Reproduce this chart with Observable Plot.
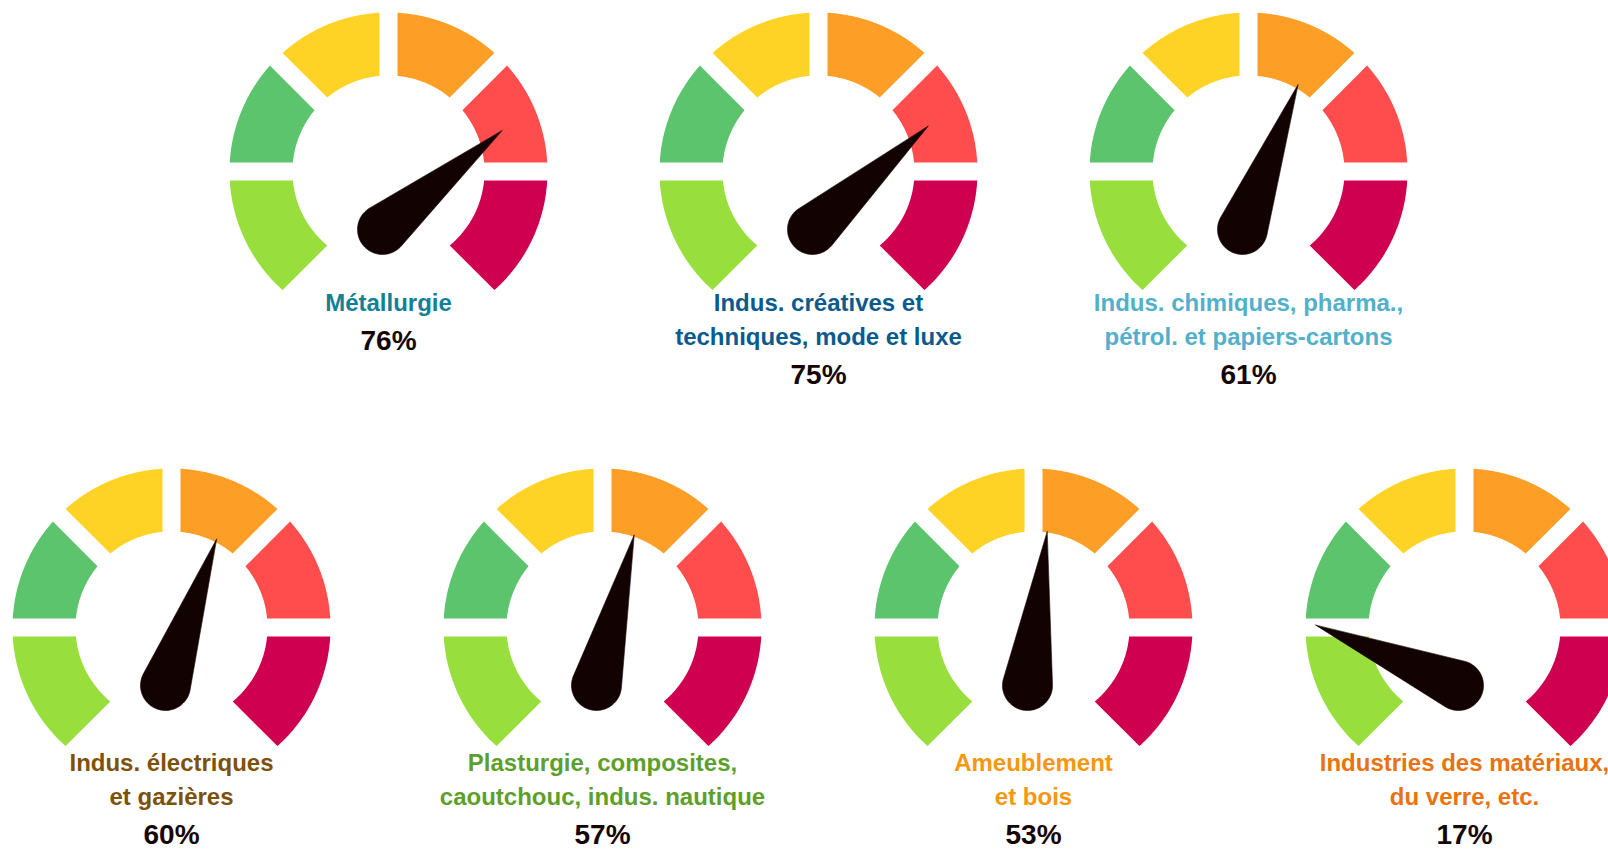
<!DOCTYPE html>
<html>
<head>
<meta charset="utf-8">
<script src="https://cdn.jsdelivr.net/npm/d3@7"></script>
<script src="https://cdn.jsdelivr.net/npm/@observablehq/plot@0.6"></script>
<style>
  html, body { margin: 0; padding: 0; background: #fff; }
  body { width: 1608px; height: 851px; overflow: hidden; position: relative; }
  .gauge { position: absolute; width: 430px; height: 430px; }
  .gauge svg { overflow: visible; max-width: none !important; }
</style>
</head>
<body>
<script>
// ---- data ----
const sectors = [
  ["Métallurgie"],
  ["Indus. créatives et", "techniques, mode et luxe"],
  ["Indus. chimiques, pharma.,", "pétrol. et papiers-cartons"],
  ["Indus. électriques", "et gazières"],
  ["Plasturgie, composites,", "caoutchouc, indus. nautique"],
  ["Ameublement", "et bois"],
  ["Industries des matériaux,", "du verre, etc."]
];
const values = [76, 75, 61, 60, 57, 53, 17];
const titleColors = ["#138095", "#0b5a8d", "#52b0cb", "#7e5109", "#5e9f2b", "#f7960f", "#e9730f"];
const bandColors = ["#98df3d", "#5bc46d", "#fed325", "#fd9f26", "#ff4d4d", "#cf004f"];
const gaugeMin = 0, gaugeMax = 100;

// ---- layout ----
const rowOf = [0, 0, 0, 1, 1, 1, 1];
const rows = [
  {cy: 171, x0: 388, step: 430, first: 139},
  {cy: 626.5, x0: 171, step: 431, first: 143.5}
];
const W = 430, H = 430, TOP = 190;
const R = 159, r = 96, halfGap = 9;
const pivot = [-6, -58], needleLen = 155, knob = 25;
const startDeg = 225, spanDeg = 270;
const font = "'Liberation Sans', Arial, Helvetica, sans-serif";

const rad = d => d * Math.PI / 180;

function bandPolygon(i) {
  const n = bandColors.length, step = spanDeg / n;
  const t0 = rad(startDeg - step * i), t1 = rad(startDeg - step * (i + 1));
  // inner gaps are centred on the boundaries; the two outer ends reach half a gap beyond the span
  const h0 = i === 0 ? -halfGap : halfGap, h1 = i === n - 1 ? -halfGap : halfGap;
  const ao0 = t0 - Math.asin(h0 / R), ao1 = t1 + Math.asin(h1 / R);
  const ai0 = t0 - Math.asin(h0 / r), ai1 = t1 + Math.asin(h1 / r);
  const pts = [], N = 60;
  for (let k = 0; k <= N; ++k) {
    const a = ao0 + (ao1 - ao0) * k / N;
    pts.push({x: R * Math.cos(a), y: R * Math.sin(a), band: i, color: bandColors[i]});
  }
  for (let k = 0; k <= N; ++k) {
    const a = ai1 + (ai0 - ai1) * k / N;
    pts.push({x: r * Math.cos(a), y: r * Math.sin(a), band: i, color: bandColors[i]});
  }
  return pts;
}
const bands = bandColors.flatMap((c, i) => bandPolygon(i));

function needlePolygon(v) {
  const th = rad(startDeg - spanDeg * (v - gaugeMin) / (gaugeMax - gaugeMin));
  const u = [Math.cos(th), Math.sin(th)];
  const ub = u[0] * pivot[0] + u[1] * pivot[1];
  const bb = pivot[0] ** 2 + pivot[1] ** 2;
  const t = ub + Math.sqrt(ub * ub - bb + needleLen ** 2);
  const tip = [t * u[0], t * u[1]];
  const dx = tip[0] - pivot[0], dy = tip[1] - pivot[1];
  const D = Math.hypot(dx, dy), phi = Math.atan2(dy, dx);
  const beta = Math.acos(knob / D);
  const pts = [{x: tip[0], y: tip[1]}];
  const N = 80;
  for (let k = 0; k <= N; ++k) {
    const a = phi + beta + (2 * Math.PI - 2 * beta) * k / N;
    pts.push({x: pivot[0] + knob * Math.cos(a), y: pivot[1] + knob * Math.sin(a)});
  }
  return pts;
}

sectors.forEach((lines, i) => {
  const row = rows[rowOf[i]];
  const col = rowOf.slice(0, i).filter(d => d === rowOf[i]).length;
  const cx = row.x0 + col * row.step;
  const labels = lines.map((s, k) => ({x: 0, y: -(row.first + k * 34), text: s, kind: "title"}));
  labels.push({x: 0, y: -(row.first + (lines.length - 1) * 34 + 39), text: values[i] + "%", kind: "pct"});

  const chart = Plot.plot({
    width: W, height: H, margin: 0,
    x: {domain: [-W / 2, W / 2], axis: null},
    y: {domain: [TOP - H, TOP], axis: null},
    color: {type: "identity"},
    style: {background: "transparent", overflow: "visible"},
    marks: [
      Plot.line(bands, {x: "x", y: "y", z: "band", fill: "color", stroke: "none", curve: "linear-closed"}),
      Plot.line(needlePolygon(values[i]), {x: "x", y: "y", fill: "#130202", stroke: "#130202", strokeWidth: 0.6, curve: "linear-closed"}),
      Plot.text(labels.filter(d => d.kind === "title"), {x: "x", y: "y", text: "text", lineAnchor: "bottom",
        fill: titleColors[i], fontSize: 24, fontWeight: "bold", fontFamily: font}),
      Plot.text(labels.filter(d => d.kind === "pct"), {x: "x", y: "y", text: "text", lineAnchor: "bottom",
        fill: "#150505", fontSize: 28, fontWeight: "bold", fontFamily: font})
    ]
  });
  const div = document.createElement("div");
  div.className = "gauge";
  div.style.left = (cx - W / 2) + "px";
  div.style.top = (row.cy - TOP) + "px";
  div.appendChild(chart);
  document.body.appendChild(div);
});
</script>
</body>
</html>
